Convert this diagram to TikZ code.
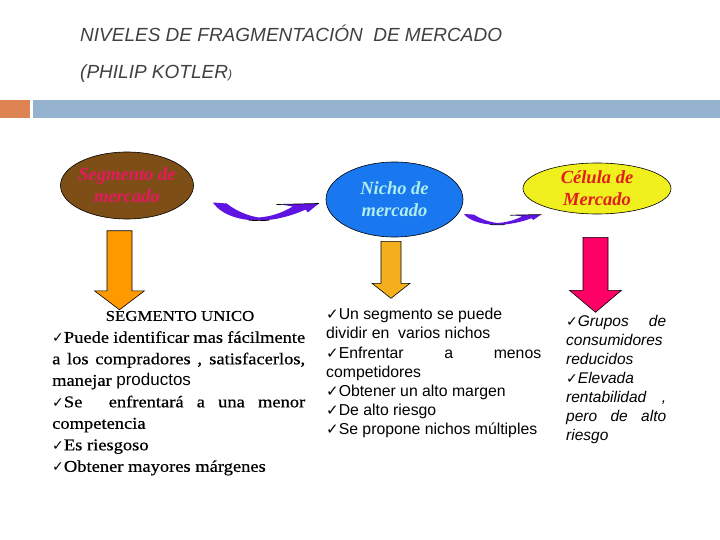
\documentclass[tikz,border=0pt]{standalone}
\usepackage{fontspec}
\setmainfont{Liberation Serif}
\newfontfamily\timesw[FakeStretch=1.12,FakeBold=0.6]{Liberation Serif}
\newfontfamily\arialf{Liberation Sans}
\newfontfamily\tickf{DejaVu Sans}
\usetikzlibrary{shapes.geometric,positioning}
\definecolor{titlegray}{RGB}{64,64,64}
\definecolor{barorange}{RGB}{221,132,82}
\definecolor{barblue}{RGB}{149,179,207}
\definecolor{segbrown}{RGB}{125,78,22}
\definecolor{segpink}{RGB}{230,25,95}
\definecolor{nichoblue}{RGB}{25,120,240}
\definecolor{nichocyan}{RGB}{175,238,238}
\definecolor{celyellow}{RGB}{240,240,30}
\definecolor{celred}{RGB}{225,30,30}
\definecolor{arrowA}{RGB}{255,153,0}
\definecolor{arrowB}{RGB}{245,175,30}
\definecolor{arrowC}{RGB}{255,0,102}
\definecolor{bendpurple}{RGB}{95,20,225}
\newcommand{\tick}[1]{{\tickf\fontsize{#1}{#1}\selectfont ✓}}

\begin{document}
\begin{tikzpicture}[x=1pt,y=-1pt,line cap=round,
  nivel/.style={ellipse,draw=black,line width=0.6pt,inner sep=0pt},
  niveltext/.style={align=center,font=\fontsize{18.5}{22}\selectfont\bfseries\itshape},
  pics/blockarrow/.style n args={5}{code={
    \filldraw[fill=#5,draw=black,line width=0.6pt,line join=miter]
      (-#1/2,0) -- (#1/2,0) -- (#1/2,#3-#4) -- (#2/2,#3-#4) -- (0,#3)
      -- (-#2/2,#3-#4) -- (-#1/2,#3-#4) -- cycle;
  }},
  pics/bendarrow/.style={code={
    \fill[bendpurple] (0,0) .. controls (10,14) and (30,18) .. (46,18)
      .. controls (64,18) and (82,12) .. (93,7) -- (95,10) -- (106,1) -- (68,2) -- (80,4)
      .. controls (68,11) and (58,14) .. (46,15) .. controls (32,13) and (20,6) .. (14,1) -- cycle;
    \draw[line width=0.7pt] (36,17.6) .. controls (42,18.3) and (50,18.3) .. (56,17.7);
    \draw[line width=0.7pt] (64,2) -- (106,1);
  }}]
\useasboundingbox (0,0) rectangle (720,540);
\node[anchor=base west,inner sep=0pt,text=titlegray,font=\arialf\itshape\fontsize{19}{20}\selectfont] (titulo) at (80,42) {NIVELES DE FRAGMENTACIÓN\ \ DE MERCADO};
\node[anchor=base west,inner sep=0pt,text=titlegray,font=\arialf\itshape\fontsize{19}{20}\selectfont] (autor) at (80,79) {(PHILIP KOTLER{\fontsize{12}{12}\selectfont)}};
\fill[barorange] (0,100) rectangle (30,118);
\fill[barblue] (33,100) rectangle (720,118);

\node[nivel,fill=segbrown,minimum width=133,minimum height=67,
  label={[niveltext,text=segpink]center:Segmento de\\mercado}] (seg) at (127,185.5) {};
\node[nivel,fill=nichoblue,minimum width=137,minimum height=75,
  label={[niveltext,text=nichocyan]center:Nicho de\\mercado}] (nicho) at (394.5,199.5) {};
\node[nivel,fill=celyellow,minimum width=148,minimum height=51,
  label={[niveltext,text=celred]center:Célula de\\Mercado}] (cel) at (597,188.5) {};

\pic at ([xshift=19pt,yshift=-17pt]seg.east) {bendarrow};
\pic[xscale=0.73,yscale=0.6] at ([xshift=0.5pt,yshift=-14.5pt]nicho.east) {bendarrow};

\pic at ([xshift=-7.5pt,yshift=-11.5pt]seg.south) {blockarrow={25}{50}{79}{19}{arrowA}};
\pic at ([xshift=-3.5pt,yshift=-4pt]nicho.south) {blockarrow={20}{38}{57}{15}{arrowB}};
\pic at ([xshift=-1.5pt,yshift=-23pt]cel.south) {blockarrow={25}{52}{75}{22}{arrowC}};

\node[inner sep=0pt,font=\timesw\fontsize{15}{15}\selectfont] (unico) at (180,316) {SEGMENTO UNICO};
\node[anchor=north west,inner sep=0pt,text width=253,align=justify,
  font=\timesw\fontsize{16.5}{21.5}\selectfont] (col1) at (52,331) {%
  \tick{14}Puede identificar mas fácilmente\linebreak
  a los compradores , satisfacerlos,\linebreak
  manejar {\arialf\fontsize{17}{21.5}\selectfont productos}\\
  \tick{14}Se\ \ enfrentará a una menor\linebreak
  competencia\\
  \tick{14}Es riesgoso\\
  \tick{14}Obtener mayores márgenes};
\node[anchor=north west,inner sep=0pt,text width=215,align=justify,
  font=\arialf\fontsize{15.8}{19.2}\selectfont] (col2) at (326,308) {%
  \tick{15}Un segmento se puede\\
  dividir en\ \ varios nichos\\
  \tick{15}Enfrentar a menos\linebreak
  competidores\\
  \tick{15}Obtener un alto margen\\
  \tick{15}De alto riesgo\\
  \tick{15}Se propone nichos múltiples};
\node[anchor=north west,inner sep=0pt,text width=100,align=justify,
  font=\arialf\itshape\fontsize{15.5}{19}\selectfont] (col3) at (566,315) {%
  \tick{14}Grupos de\linebreak
  consumidores\linebreak
  reducidos\\
  \tick{14}Elevada\\
  rentabilidad ,\linebreak
  pero de alto\linebreak
  riesgo};
\end{tikzpicture}
\end{document}
